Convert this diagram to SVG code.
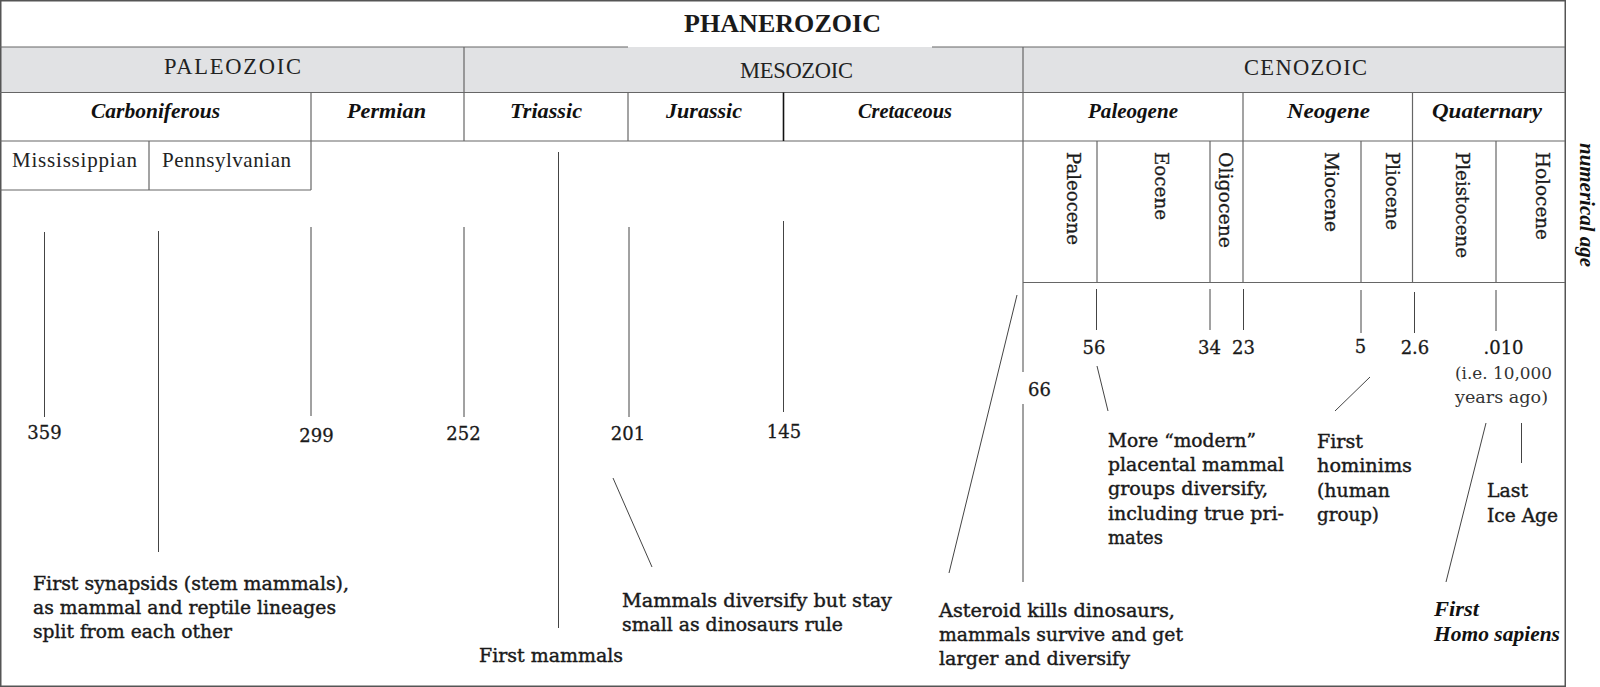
<svg xmlns="http://www.w3.org/2000/svg" width="1600" height="687" viewBox="0 0 1600 687">
<style>
.frame{fill:none;stroke:#555;stroke-width:1.5}
.rule{stroke:#666;stroke-width:1.2;fill:none}
.ln{stroke:#444;stroke-width:1;fill:none}
.hd{font-family:"Liberation Serif",serif;fill:#1a1a1a}
.era{font-family:"Liberation Serif",serif;font-size:22.5px;fill:#222;text-anchor:middle}
.per{font-family:"Liberation Serif",serif;font-size:20px;font-weight:bold;font-style:italic;fill:#111;text-anchor:middle}
.sub{font-family:"Liberation Serif",serif;font-size:21px;fill:#222}
.ep{font-family:"DejaVu Serif",serif;font-size:18.5px;fill:#1a1a1a;stroke:#1a1a1a;stroke-width:0.3}
.num{font-family:"DejaVu Serif",serif;font-size:18px;fill:#1a1a1a;stroke:#1a1a1a;stroke-width:0.3;text-anchor:middle}
.b{font-family:"DejaVu Serif",serif;font-size:18px;fill:#1a1a1a;stroke:#1a1a1a;stroke-width:0.4}
.bi{font-family:"Liberation Serif",serif;font-size:20px;font-weight:bold;font-style:italic;fill:#111}
.lt{font-family:"DejaVu Serif",serif;font-size:17px;fill:#333}
</style>

<g id="table">
  <rect x="0" y="47" width="1565" height="45.5" fill="#e1e2e4"/>
  <rect class="frame" x="0.75" y="0.75" width="1564.5" height="685.5"/>
  <line class="rule" x1="0" y1="47" x2="628" y2="47"/>
  <line class="rule" x1="932" y1="47" x2="1565" y2="47"/>
  <line class="rule" x1="0" y1="92.5" x2="1565" y2="92.5"/>
  <line class="rule" x1="0" y1="141" x2="1565" y2="141"/>
  <line class="rule" x1="0" y1="190" x2="311" y2="190"/>
  <line class="rule" x1="1023" y1="282.5" x2="1565" y2="282.5"/>
  <line class="rule" x1="464" y1="47" x2="464" y2="141"/>
  <line class="rule" x1="311" y1="92.5" x2="311" y2="190"/>
  <line class="rule" x1="628" y1="92.5" x2="628" y2="141"/>
  <line x1="783.5" y1="92.5" x2="783.5" y2="141" stroke="#111" stroke-width="1.6"/>
  <line class="rule" x1="1243" y1="92.5" x2="1243" y2="282.5"/>
  <line class="rule" x1="1412.5" y1="92.5" x2="1412.5" y2="282.5"/>
  <line class="rule" x1="149" y1="141" x2="149" y2="190"/>
  <line class="rule" x1="1097" y1="141" x2="1097" y2="282.5"/>
  <line class="rule" x1="1210" y1="141" x2="1210" y2="282.5"/>
  <line class="rule" x1="1361" y1="141" x2="1361" y2="282.5"/>
  <line class="rule" x1="1496" y1="141" x2="1496" y2="282.5"/>
</g>

<g id="eon">
  <text class="hd" x="782.5" y="32" font-size="26" font-weight="bold" text-anchor="middle" textLength="197" lengthAdjust="spacing">PHANEROZOIC</text>
</g>
<g id="eras">
  <text class="era" x="232.5" y="74" textLength="137" lengthAdjust="spacing">PALEOZOIC</text>
  <text class="era" x="796.5" y="77.5" textLength="113" lengthAdjust="spacing">MESOZOIC</text>
  <text class="era" x="1305.5" y="75" textLength="123" lengthAdjust="spacing">CENOZOIC</text>
</g>
<g id="periods">
  <text class="per" x="155.5" y="118" textLength="129" lengthAdjust="spacingAndGlyphs">Carboniferous</text>
  <text class="per" x="386.5" y="118" textLength="79" lengthAdjust="spacingAndGlyphs">Permian</text>
  <text class="per" x="546" y="118" textLength="72" lengthAdjust="spacingAndGlyphs">Triassic</text>
  <text class="per" x="704" y="118" textLength="76" lengthAdjust="spacingAndGlyphs">Jurassic</text>
  <text class="per" x="905" y="118" textLength="94" lengthAdjust="spacingAndGlyphs">Cretaceous</text>
  <text class="per" x="1133" y="118" textLength="90" lengthAdjust="spacingAndGlyphs">Paleogene</text>
  <text class="per" x="1328.5" y="118" textLength="83" lengthAdjust="spacingAndGlyphs">Neogene</text>
  <text class="per" x="1487" y="118" textLength="110" lengthAdjust="spacingAndGlyphs">Quaternary</text>
</g>
<g id="subperiods">
  <text class="sub" x="12" y="167" textLength="125" lengthAdjust="spacing">Mississippian</text>
  <text class="sub" x="162" y="167" textLength="129" lengthAdjust="spacing">Pennsylvanian</text>
</g>
<g id="epochs">
  <text class="ep" transform="translate(1067,152) rotate(90)" textLength="93" lengthAdjust="spacingAndGlyphs">Paleocene</text>
  <text class="ep" transform="translate(1155,152) rotate(90)" textLength="68" lengthAdjust="spacingAndGlyphs">Eocene</text>
  <text class="ep" transform="translate(1219,152) rotate(90)" textLength="96" lengthAdjust="spacingAndGlyphs">Oligocene</text>
  <text class="ep" transform="translate(1325,152) rotate(90)" textLength="80" lengthAdjust="spacingAndGlyphs">Miocene</text>
  <text class="ep" transform="translate(1386,152) rotate(90)" textLength="78" lengthAdjust="spacingAndGlyphs">Pliocene</text>
  <text class="ep" transform="translate(1456,152) rotate(90)" textLength="106" lengthAdjust="spacingAndGlyphs">Pleistocene</text>
  <text class="ep" transform="translate(1536,152) rotate(90)" textLength="88" lengthAdjust="spacingAndGlyphs">Holocene</text>
</g>
<g id="axis-label">
  <text class="bi" font-size="20" transform="translate(1580,143) rotate(90)" textLength="124" lengthAdjust="spacingAndGlyphs">numerical age</text>
</g>

<g id="connectors">
  <line class="ln" x1="44.5" y1="232" x2="44.5" y2="417"/>
  <line class="ln" x1="158.5" y1="231" x2="158.5" y2="552"/>
  <line class="ln" x1="311" y1="227" x2="311" y2="416"/>
  <line class="ln" x1="464" y1="227" x2="464" y2="417"/>
  <line class="ln" x1="558.5" y1="152" x2="558.5" y2="628"/>
  <line class="ln" x1="629" y1="227" x2="629" y2="417"/>
  <line class="ln" x1="783.5" y1="221" x2="783.5" y2="412"/>
  <line class="ln" x1="613" y1="478" x2="652" y2="567"/>
  <line class="rule" x1="1023" y1="47" x2="1023" y2="372"/>
  <line class="ln" x1="1023" y1="404" x2="1023" y2="582"/>
  <line class="ln" x1="1017" y1="295" x2="949" y2="573"/>
  <line class="ln" x1="1096.5" y1="289" x2="1096.5" y2="330"/>
  <line class="ln" x1="1210" y1="289" x2="1210" y2="330"/>
  <line class="ln" x1="1243.5" y1="289" x2="1243.5" y2="330"/>
  <line class="ln" x1="1361" y1="290" x2="1361" y2="333"/>
  <line class="ln" x1="1414.5" y1="292" x2="1414.5" y2="333"/>
  <line class="ln" x1="1496" y1="290" x2="1496" y2="331"/>
  <line class="ln" x1="1097" y1="366" x2="1108" y2="411"/>
  <line class="ln" x1="1370" y1="377" x2="1335" y2="411"/>
  <line class="ln" x1="1486" y1="423" x2="1446" y2="582"/>
  <line class="ln" x1="1521.5" y1="423" x2="1521.5" y2="463"/>
</g>

<g id="ages">
  <text class="num" x="44.5" y="439">359</text>
  <text class="num" x="316.5" y="442">299</text>
  <text class="num" x="463.5" y="440">252</text>
  <text class="num" x="628" y="440">201</text>
  <text class="num" x="784" y="438">145</text>
  <text class="num" x="1039.5" y="396">66</text>
  <text class="num" x="1094" y="354">56</text>
  <text class="num" x="1209.5" y="354">34</text>
  <text class="num" x="1243.5" y="354">23</text>
  <text class="num" x="1360.5" y="353">5</text>
  <text class="num" x="1415" y="354">2.6</text>
  <text class="num" x="1503.5" y="354">.010</text>
  <text class="lt" x="1455" y="379" textLength="97" lengthAdjust="spacingAndGlyphs">(i.e. 10,000</text>
  <text class="lt" x="1455" y="403" textLength="93" lengthAdjust="spacingAndGlyphs">years ago)</text>
</g>

<g id="note-synapsids">
  <text class="b" x="33" y="590" textLength="316" lengthAdjust="spacingAndGlyphs">First synapsids (stem mammals),</text>
  <text class="b" x="33" y="614" textLength="303" lengthAdjust="spacingAndGlyphs">as mammal and reptile lineages</text>
  <text class="b" x="33" y="638" textLength="199" lengthAdjust="spacingAndGlyphs">split from each other</text>
</g>
<g id="note-first-mammals">
  <text class="b" x="479" y="662" textLength="144" lengthAdjust="spacingAndGlyphs">First mammals</text>
</g>
<g id="note-diversify">
  <text class="b" x="622" y="607" textLength="270" lengthAdjust="spacingAndGlyphs">Mammals diversify but stay</text>
  <text class="b" x="622" y="631" textLength="221" lengthAdjust="spacingAndGlyphs">small as dinosaurs rule</text>
</g>
<g id="note-asteroid">
  <text class="b" x="939" y="617" textLength="236" lengthAdjust="spacingAndGlyphs">Asteroid kills dinosaurs,</text>
  <text class="b" x="939" y="641" textLength="244" lengthAdjust="spacingAndGlyphs">mammals survive and get</text>
  <text class="b" x="939" y="665" textLength="191" lengthAdjust="spacingAndGlyphs">larger and diversify</text>
</g>
<g id="note-placental">
  <text class="b" x="1108" y="447" textLength="148" lengthAdjust="spacingAndGlyphs">More “modern”</text>
  <text class="b" x="1108" y="471" textLength="176" lengthAdjust="spacingAndGlyphs">placental mammal</text>
  <text class="b" x="1108" y="495" textLength="160" lengthAdjust="spacingAndGlyphs">groups diversify,</text>
  <text class="b" x="1108" y="520" textLength="176" lengthAdjust="spacingAndGlyphs">including true pri-</text>
  <text class="b" x="1108" y="544" textLength="55" lengthAdjust="spacingAndGlyphs">mates</text>
</g>
<g id="note-hominims">
  <text class="b" x="1317" y="448" textLength="46" lengthAdjust="spacingAndGlyphs">First</text>
  <text class="b" x="1317" y="472" textLength="95" lengthAdjust="spacingAndGlyphs">hominims</text>
  <text class="b" x="1317" y="497" textLength="73" lengthAdjust="spacingAndGlyphs">(human</text>
  <text class="b" x="1317" y="521" textLength="62" lengthAdjust="spacingAndGlyphs">group)</text>
</g>
<g id="note-ice-age">
  <text class="b" x="1487" y="497" textLength="41" lengthAdjust="spacingAndGlyphs">Last</text>
  <text class="b" x="1487" y="522" textLength="71" lengthAdjust="spacingAndGlyphs">Ice Age</text>
</g>
<g id="note-homo-sapiens">
  <text class="bi" x="1434" y="616" textLength="45" lengthAdjust="spacingAndGlyphs">First</text>
  <text class="bi" x="1434" y="641" textLength="126" lengthAdjust="spacingAndGlyphs">Homo sapiens</text>
</g>
</svg>
